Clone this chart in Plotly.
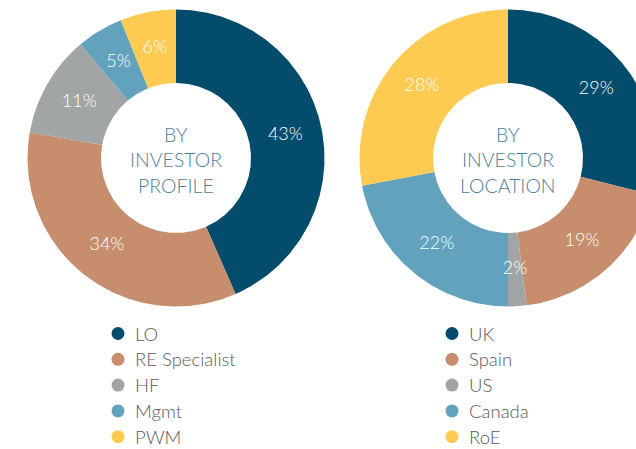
import math
import plotly.graph_objects as go

# ---- data ----
profile_labels = ["LO", "RE Specialist", "HF", "Mgmt", "PWM"]
profile_values = [43, 34, 11, 5, 6]
location_labels = ["UK", "Spain", "US", "Canada", "RoE"]
location_values = [29, 19, 2, 22, 28]
colors = ["#034C6B", "#C68E6D", "#A1A5A6", "#62A2BD", "#FDCB51"]
profile_title = ["BY", "INVESTOR", "PROFILE"]
location_title = ["BY", "INVESTOR", "LOCATION"]

# ---- layout (pixel-like axis units) ----
W, H = 636, 449
FONT = "Lato"
CY = 158
R_OUT, R_IN = 148.5, 75
R_TXT = (R_OUT + R_IN) / 2
donuts = [
    dict(cx=176, labels=profile_labels, values=profile_values,
         title=profile_title, leg_x=118),
    dict(cx=508, labels=location_labels, values=location_values,
         title=location_title, leg_x=452),
]
LEG_Y0, LEG_DY = 333.5, 25.8
TITLE_Y, TITLE_DY = 159.5, 25.5


def pt(cx, r, ang):
    a = math.radians(ang)
    return cx + r * math.sin(a), CY - r * math.cos(a)


def sector(cx, a0, a1):
    n = max(2, int(abs(a1 - a0) / 0.5) + 1)
    angs = [a0 + (a1 - a0) * k / (n - 1) for k in range(n)]
    outer = [pt(cx, R_OUT, a) for a in angs]
    inner = [pt(cx, R_IN, a) for a in reversed(angs)]
    poly = outer + inner + [outer[0]]
    return [p[0] for p in poly], [p[1] for p in poly]


fig = go.Figure()
annotations = []

for d in donuts:
    cx, labels, values = d["cx"], d["labels"], d["values"]
    total = sum(values)
    cum = 0
    tx, ty, tt = [], [], []
    for lab, v, col in zip(labels, values, colors):
        a0 = cum / total * 360
        a1 = (cum + v) / total * 360
        cum += v
        xs, ys = sector(cx, a0, a1)
        fig.add_trace(go.Scatter(
            x=xs, y=ys, mode="lines", fill="toself", fillcolor=col,
            line=dict(width=0, color=col), name=lab, showlegend=False,
            hoverinfo="text", text=f"{lab}: {v}%",
        ))
        mx, my = pt(cx, R_TXT, (a0 + a1) / 2)
        tx.append(mx)
        ty.append(my)
        tt.append(f"{v}%")
    fig.add_trace(go.Scatter(
        x=tx, y=ty, mode="text", text=tt, textposition="middle center",
        textfont=dict(family=FONT, size=18, color="white", weight=300),
        showlegend=False, hoverinfo="skip",
    ))
    # centre title
    for i, line in enumerate(d["title"]):
        annotations.append(dict(
            x=cx, y=TITLE_Y + (i - 1) * TITLE_DY, xref="x", yref="y",
            text=line, showarrow=False, xanchor="center", yanchor="middle",
            font=dict(family=FONT, size=19.5, color="#4E7F97", weight=300),
        ))
    # legend
    ly = [LEG_Y0 + i * LEG_DY for i in range(len(labels))]
    fig.add_trace(go.Scatter(
        x=[d["leg_x"]] * len(labels), y=ly, mode="markers",
        marker=dict(size=13, color=colors, line=dict(width=0)),
        showlegend=False, hoverinfo="skip",
    ))
    for lab, y in zip(labels, ly):
        annotations.append(dict(
            x=d["leg_x"] + 15, y=y, xref="x", yref="y", text=lab,
            showarrow=False, xanchor="left", yanchor="middle",
            font=dict(family=FONT, size=18.5, color="#5A5A5A", weight=300),
        ))

fig.update_layout(
    width=W, height=H,
    margin=dict(l=0, r=0, t=0, b=0),
    paper_bgcolor="white", plot_bgcolor="white",
    xaxis=dict(visible=False, range=[0, W], fixedrange=True),
    yaxis=dict(visible=False, range=[H, 0], fixedrange=True),
    annotations=annotations,
    showlegend=False,
)

post = (
    "document.documentElement.style.overflow='hidden';"
    "document.body.style.margin='0';document.body.style.overflow='hidden';"
)
fig.write_html("out.html", config={"displayModeBar": False}, post_script=post)
